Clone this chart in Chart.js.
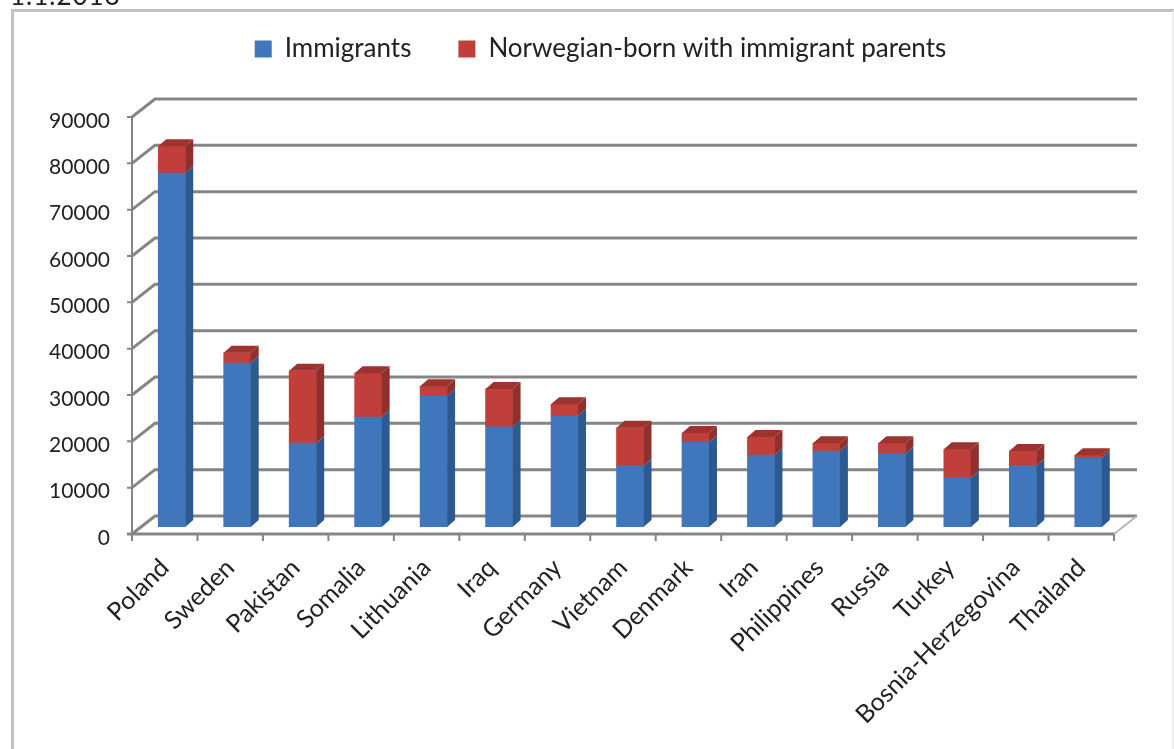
<!DOCTYPE html>
<html>
<head>
<meta charset="utf-8">
<title>Immigrants and Norwegian-born with immigrant parents</title>
<script src="https://cdn.jsdelivr.net/npm/chart.js@4"></script>
<style>
  html, body { margin: 0; background: #fff; overflow: hidden; }
  #wrap { position: absolute; left: 0; top: 0; width: 1174px; height: 749px; overflow: hidden; filter: blur(0.7px); }
  #frame { position: absolute; left: 11px; top: 9px; width: 1158px; height: 800px; border: 3px solid #c2c2c2; border-right-color: #eee; }
  #date { position: absolute; left: 10px; top: -21px; font: 26px Lato, sans-serif; letter-spacing: 1px; color: #222; }
  canvas { position: absolute; left: 0; top: 0; }
</style>
</head>
<body>
<div id="wrap">
  <div id="date">1.1.2013</div>
  <div id="frame"></div>
  <canvas id="chart" width="1174" height="749"></canvas>
</div>
<script>
const countries = ["Poland", "Sweden", "Pakistan", "Somalia", "Lithuania", "Iraq", "Germany", "Vietnam",
  "Denmark", "Iran", "Philippines", "Russia", "Turkey", "Bosnia-Herzegovina", "Thailand"];
const immigrants = [76400, 35400, 18100, 23700, 28300, 21600, 24000, 13200, 18300, 15500, 16400, 15800, 10600, 13200, 14900];
const norwegianBorn = [5800, 2200, 15600, 9500, 2100, 8200, 2500, 8200, 2000, 3900, 1700, 2300, 6200, 3200, 600];

const BLUE = "#4076BC", BLUE_SIDE = "#2C5A90";
const RED = "#C03F3A", RED_SIDE = "#8F302C", RED_TOP = "#9C332F";
const GRID = "#858585";

// legend sits in the same row as the reference, plot area starts lower
const legendSpacing = {
  id: "legendSpacing",
  beforeInit(chart) {
    const fit = chart.legend.fit;
    chart.legend.fit = function () {
      fit.call(this);
      this.height = 110;
    };
  },
  afterLayout(chart) {
    const lg = chart.legend;
    lg.left += 40; lg.right += 40;
    lg.top -= 11; lg.bottom -= 11;
  }
};

// fake 3D box: walls, floor and the side/top faces of the bars
const depth3d = {
  id: "depth3d",
  beforeDatasetsDraw(chart) {
    const ctx = chart.ctx, x = chart.scales.x, y = chart.scales.y;
    ctx.save();
    ctx.strokeStyle = GRID;
    ctx.lineWidth = 3;
    y.ticks.forEach(t => {
      const py = y.getPixelForValue(t.value);
      ctx.beginPath();
      ctx.moveTo(x.left - 7, py + 7);
      ctx.lineTo(x.left + 16, py - 11);
      ctx.lineTo(x.right + 16, py - 11);
      ctx.stroke();
    });
    const base = y.getPixelForValue(0);
    // floor edge on the right
    ctx.strokeStyle = "#b5b5b5";
    ctx.lineWidth = 2;
    ctx.beginPath();
    ctx.moveTo(x.right - 7, base + 7);
    ctx.lineTo(x.right + 16, base - 11);
    ctx.stroke();
    // front axes
    ctx.strokeStyle = GRID;
    ctx.lineWidth = 2;
    ctx.beginPath();
    ctx.moveTo(x.left - 7, y.top + 7);
    ctx.lineTo(x.left - 7, base + 7);
    y.ticks.forEach(t => {
      const py = y.getPixelForValue(t.value) + 7;
      ctx.moveTo(x.left - 12, py);
      ctx.lineTo(x.left - 7, py);
    });
    ctx.stroke();
    ctx.lineWidth = 3;
    ctx.beginPath();
    ctx.moveTo(x.left - 12, base + 7);
    ctx.lineTo(x.right - 7, base + 7);
    ctx.stroke();
    ctx.lineWidth = 2;
    ctx.beginPath();
    const step = x.width / countries.length;
    for (let i = 0; i <= countries.length; i++) {
      ctx.moveTo(x.left - 7 + i * step, base + 7);
      ctx.lineTo(x.left - 7 + i * step, base + 14);
    }
    ctx.stroke();
    ctx.restore();
  },
  afterDatasetsDraw(chart) {
    const ctx = chart.ctx, dx = 8, dy = -7;
    ctx.save();
    chart.data.datasets.forEach((ds, d) => {
      chart.getDatasetMeta(d).data.forEach(bar => {
        const r = bar.x + bar.width / 2, l = bar.x - bar.width / 2;
        ctx.fillStyle = d === 0 ? BLUE_SIDE : RED_SIDE;
        ctx.beginPath();
        ctx.moveTo(r, bar.base);
        ctx.lineTo(r + dx, bar.base + dy);
        ctx.lineTo(r + dx, bar.y + dy);
        ctx.lineTo(r, bar.y);
        ctx.closePath();
        ctx.fill();
        if (d === 1) {
          ctx.fillStyle = RED_TOP;
          ctx.beginPath();
          ctx.moveTo(l, bar.y);
          ctx.lineTo(l + dx, bar.y + dy);
          ctx.lineTo(r + dx, bar.y + dy);
          ctx.lineTo(r, bar.y);
          ctx.closePath();
          ctx.fill();
        }
      });
    });
    ctx.restore();
  }
};

Chart.defaults.font.family = "Lato, sans-serif";
Chart.defaults.color = "#222";

new Chart(document.getElementById("chart"), {
  type: "bar",
  data: {
    labels: countries,
    datasets: [
      { label: "Immigrants", data: immigrants, backgroundColor: BLUE, barThickness: 27 },
      { label: "Norwegian-born with immigrant parents", data: norwegianBorn, backgroundColor: RED, barThickness: 27 }
    ]
  },
  options: {
    responsive: false,
    animation: false,
    layout: { padding: { left: 0, right: 53, top: 0, bottom: 0 } },
    plugins: {
      tooltip: { enabled: false },
      legend: {
        position: "top",
        labels: { boxWidth: 17, boxHeight: 17, font: { size: 26 }, padding: 47, color: "#222" }
      }
    },
    scales: {
      x: {
        stacked: true,
        grid: { display: false },
        border: { display: false },
        ticks: { minRotation: 45, maxRotation: 45, autoSkip: false, font: { size: 25 }, padding: 18, labelOffset: -7 },
        afterFit(s) { s.height = 749 - 527; }
      },
      y: {
        stacked: true,
        min: 0,
        max: 90000,
        grid: { display: false },
        border: { display: false },
        ticks: { stepSize: 10000, font: { size: 21 }, padding: 21, labelOffset: 11, callback: v => String(v) },
        afterFit(s) { s.width = 139; }
      }
    }
  },
  plugins: [legendSpacing, depth3d]
});
</script>
</body>
</html>
